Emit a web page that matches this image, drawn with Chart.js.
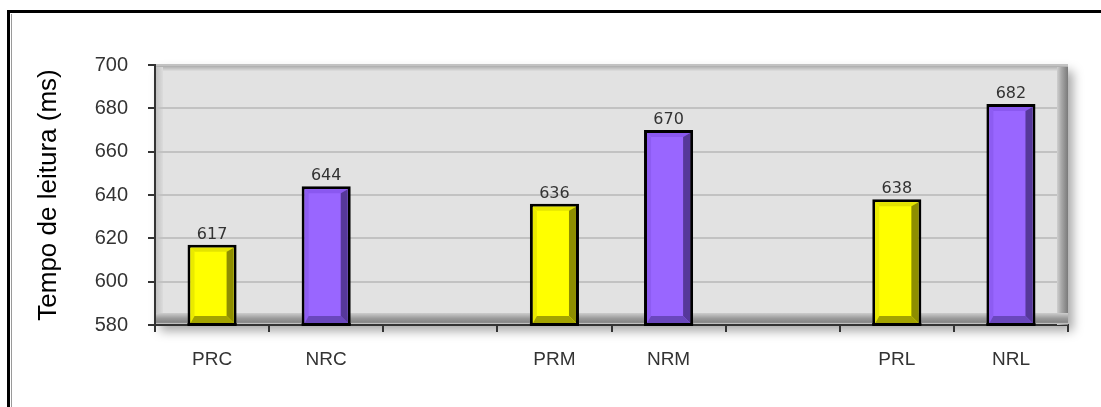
<!DOCTYPE html>
<html>
<head>
<meta charset="utf-8">
<script src="https://cdn.jsdelivr.net/npm/chart.js@4.4.1/dist/chart.umd.min.js"></script>
<style>
  html, body { margin: 0; padding: 0; background: #fff; }
  #wrap { position: relative; width: 1101px; height: 407px; overflow: hidden; }
  #frame {
    position: absolute; left: 7px; top: 10px; right: -10px; bottom: -10px;
    border-left: 3px solid #000; border-top: 3px solid #000;
  }
  #frame-in {
    position: absolute; left: 1px; top: 1px; right: 0; bottom: 0;
    border-left: 1px solid #9a9a9a;
  }
  #chart { position: absolute; left: 0; top: 0; }
</style>
</head>
<body>
<div id="wrap">
  <div id="frame"><div id="frame-in"></div></div>
  <canvas id="chart" width="1101" height="407"></canvas>
</div>
<script>
// chart data
const categories = ['PRC', 'NRC', '', 'PRM', 'NRM', '', 'PRL', 'NRL'];
const readTimes = [617, 644, null, 636, 670, null, 638, 682];
const yTicks = [580, 600, 620, 640, 660, 680, 700];

const yellow = { face: '#ffff00', top: '#e4e400', left: '#eaea00', right: '#8e8e00', bottom: '#a3a300' };
const purple = { face: '#9966ff', top: '#8a58f0', left: '#8d5cf2', right: '#56389a', bottom: '#6a47bd' };
const styleOf = (label) => label.startsWith('P') ? yellow : purple;

// plot box with 3D look (back panel, walls, floor)
const panel = {
  id: 'panel',
  beforeDraw(chart) {
    const { ctx, chartArea: a } = chart;
    ctx.save();
    ctx.shadowColor = 'rgba(0,0,0,0.35)';
    ctx.shadowBlur = 10;
    ctx.shadowOffsetX = 5;
    ctx.shadowOffsetY = 6;
    ctx.fillStyle = '#e2e2e2';
    ctx.fillRect(a.left, a.top, a.right - a.left, a.bottom - a.top);
    ctx.restore();

    ctx.save();
    let g = ctx.createLinearGradient(0, a.top, 0, a.top + 6);
    g.addColorStop(0, '#a2a2a2');
    g.addColorStop(1, '#dedede');
    ctx.fillStyle = g;
    ctx.fillRect(a.left, a.top, a.right - a.left, 6);
    g = ctx.createLinearGradient(a.left, 0, a.left + 8, 0);
    g.addColorStop(0, '#bdbdbd');
    g.addColorStop(1, '#dcdcdc');
    ctx.fillStyle = g;
    ctx.fillRect(a.left, a.top + 2, 8, a.bottom - a.top - 2);
    ctx.restore();
  },
  beforeDatasetsDraw(chart) {
    const { ctx, chartArea: a } = chart;
    ctx.save();
    let g = ctx.createLinearGradient(a.right - 11, 0, a.right, 0);
    g.addColorStop(0, '#cfcfcf');
    g.addColorStop(0.4, '#a8a8a8');
    g.addColorStop(1, '#7a7a7a');
    ctx.fillStyle = g;
    ctx.fillRect(a.right - 11, a.top + 2, 11, a.bottom - a.top - 2);
    g = ctx.createLinearGradient(0, a.bottom - 12, 0, a.bottom - 1);
    g.addColorStop(0, '#cdcdcd');
    g.addColorStop(0.5, '#9a9a9a');
    g.addColorStop(0.85, '#858585');
    g.addColorStop(1, '#d8d8d8');
    ctx.fillStyle = g;
    ctx.fillRect(a.left + 1, a.bottom - 12, a.right - a.left - 1, 11);
    ctx.restore();
  }
};

// bevel inside each bar + value labels
const bevel = {
  id: 'bevel',
  afterDatasetsDraw(chart) {
    const { ctx, chartArea } = chart;
    const meta = chart.getDatasetMeta(0);
    meta.data.forEach((bar, i) => {
      if (readTimes[i] == null) return;
      const { x, y, base, width } = bar.getProps(['x', 'y', 'base', 'width'], true);
      const bottom = Math.min(base, chartArea.bottom + 1);
      const s = styleOf(categories[i]);
      const bw = 3, b = 7;
      const x1 = x - width / 2 + bw, x2 = x + width / 2 - bw;
      const y1 = y + bw, y2 = bottom - bw;
      const quad = (pts, c) => {
        ctx.beginPath();
        ctx.moveTo(pts[0], pts[1]);
        for (let k = 2; k < pts.length; k += 2) ctx.lineTo(pts[k], pts[k + 1]);
        ctx.closePath();
        ctx.fillStyle = c;
        ctx.fill();
      };
      ctx.save();
      quad([x1, y1, x2, y1, x2 - b, y1 + 4, x1 + 4, y1 + 4], s.top);
      quad([x1, y1, x1 + 4, y1 + 4, x1 + 4, y2 - b, x1, y2], s.left);
      quad([x2, y1, x2, y2, x2 - b, y2 - b, x2 - b, y1 + 4], s.right);
      quad([x1, y2, x2, y2, x2 - b, y2 - b, x1 + 4, y2 - b], s.bottom);
      ctx.fillStyle = '#000';
      ctx.fillRect(x1 - bw, y2, width, bw);
      ctx.restore();

      ctx.save();
      ctx.font = '16px "DejaVu Sans"';
      ctx.fillStyle = '#333';
      ctx.textAlign = 'center';
      ctx.textBaseline = 'alphabetic';
      ctx.fillText(String(readTimes[i]), x, y - 6);
      ctx.restore();
    });
  }
};

const chart = new Chart(document.getElementById('chart').getContext('2d'), {
  type: 'bar',
  data: {
    labels: categories,
    datasets: [{
      data: readTimes,
      backgroundColor: categories.map(c => styleOf(c).face),
      borderColor: '#000',
      borderWidth: 3,
      borderSkipped: false,
      barPercentage: 0.43,
      categoryPercentage: 1
    }]
  },
  options: {
    responsive: false,
    animation: false,
    layout: { padding: { top: 65, right: 33, bottom: 0, left: 0 } },
    plugins: { legend: { display: false }, tooltip: { enabled: false } },
    scales: {
      x: {
        afterFit: (s) => { s.height = 82; },
        grid: { drawOnChartArea: false, tickLength: 7, tickColor: '#333', lineWidth: 2 },
        border: { color: '#333', width: 2 },
        ticks: {
          autoSkip: false, maxRotation: 0, padding: 16,
          color: '#333', font: { family: '"Liberation Sans"', size: 19 }
        }
      },
      y: {
        min: 580, max: 700,
        afterFit: (s) => { s.width = 155; },
        afterBuildTicks: (s) => { s.ticks = yTicks.map(v => ({ value: v })); },
        grid: { color: '#c2c2c2', lineWidth: 2, tickLength: 7, tickColor: '#333' },
        border: { color: '#333', width: 2 },
        ticks: { padding: 20, color: '#333', font: { family: '"Liberation Sans"', size: 20 } },
        title: {
          display: true, text: 'Tempo de leitura (ms)', color: '#000',
          font: { family: '"Liberation Sans"', size: 26 }, padding: { top: 33 }
        }
      }
    }
  },
  plugins: [panel, bevel]
});
</script>
</body>
</html>
